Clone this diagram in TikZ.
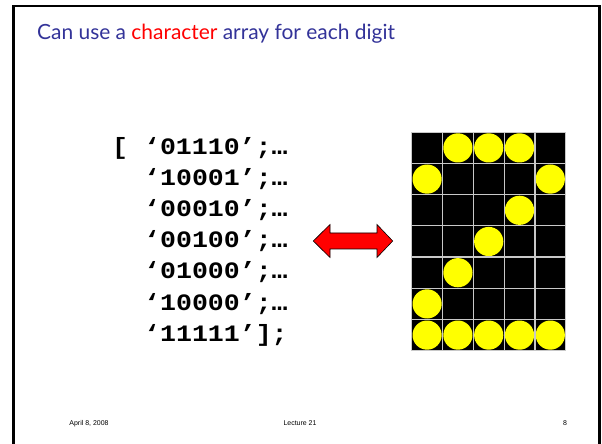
\documentclass[tikz,border=0pt]{standalone}
\usepackage{fontspec}
\setmainfont{Lato}
\newfontfamily\codefont[FakeStretch=1.13]{Liberation Mono}
\newfontfamily\footfont{Liberation Sans}
\definecolor{titleblue}{HTML}{333399}
\definecolor{gridgray}{HTML}{C8C8C8}
\definecolor{dotyellow}{HTML}{FFFF00}
\begin{document}
\begin{tikzpicture}[x=1bp,y=-1bp,
  codeline/.style={anchor=base west,inner sep=0pt,font=\codefont\bfseries\fontsize{23.6}{31}\selectfont},
  foot/.style={anchor=base,inner sep=0pt,font=\footfont\fontsize{7}{8}\selectfont},
  dot/.style={fill=dotyellow,draw=none}]
% page
\fill[white] (0,0) rectangle (602,444);
\useasboundingbox (0,0) rectangle (602,444);
% slide frame (open at the bottom)
\draw[line width=2.6bp,line join=miter] (13.5,444) -- (13.5,6) -- (599.5,6) -- (599.5,444);

% title
\node[anchor=base west,inner sep=0pt,font=\fontsize{21}{25}\selectfont,text=titleblue] (title) at (37,40)
  {Can use a \textcolor{red}{character} array for each digit};

% character array
\node[codeline] (r1) at (112,155) {[ ‘01110’;…};
\node[codeline] (r2) at (144,186) {‘10001’;…};
\node[codeline] (r3) at (144,217) {‘00010’;…};
\node[codeline] (r4) at (144,248) {‘00100’;…};
\node[codeline] (r5) at (144,279) {‘01000’;…};
\node[codeline] (r6) at (144,310) {‘10000’;…};
\node[codeline] (r7) at (144,341) {‘11111’];};

% double arrow
\draw[fill=red,draw=black,line width=0.6bp,line join=miter]
  (313.3,241) -- (330,224.5) -- (330,233) -- (377,233) -- (377,224.5) -- (392.7,241)
  -- (377,257.5) -- (377,249) -- (330,249) -- (330,257.5) -- cycle;

% dot-matrix digit: black cells, lit cells, grid lines
\def\cw{30.8}\def\ch{31.2}\def\gx{411.7}\def\gy{132.3}
\fill[black] (\gx,\gy) rectangle ({\gx+5*\cw},{\gy+7*\ch});
\foreach \col/\row in {1/0,2/0,3/0, 0/1,4/1, 3/2, 2/3, 1/4, 0/5, 0/6,1/6,2/6,3/6,4/6}
  \fill[dot] ({\gx+(\col+0.5)*\cw},{\gy+(\row+0.5)*\ch}) circle (14.6);
\foreach \i in {0,...,5} \draw[gridgray,line width=1.2bp] ({\gx+\i*\cw},\gy) -- ({\gx+\i*\cw},{\gy+7*\ch});
\foreach \j in {0,...,7} \draw[gridgray,line width=1.2bp] (\gx,{\gy+\j*\ch}) -- ({\gx+5*\cw},{\gy+\j*\ch});

% footer
\node[foot] (date) at (89,425) {April 8, 2008};
\node[foot] (lect) at (300,425) {Lecture 21};
\node[foot] (page) at (565,425) {8};
\end{tikzpicture}
\end{document}
